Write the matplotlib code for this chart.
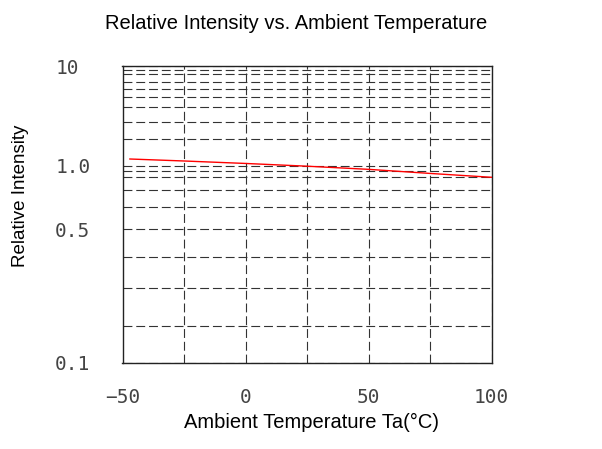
import numpy as np
import matplotlib
matplotlib.use("Agg")
import matplotlib.pyplot as plt
from matplotlib.scale import FuncScale
from matplotlib.ticker import FixedLocator, NullFormatter

# ---- data ----
temperature = [-47, -25, 0, 25, 50, 75, 100]
rel_intensity = [1.19, 1.13, 1.06, 0.99, 0.93, 0.86, 0.80]

x_major = [-50, 0, 50, 100]
x_major_labels = ["\u221250", "0", "50", "100"]
x_minor = [-25, 25, 75]

y_major = [0.1, 0.5, 1.0, 10]
y_major_labels = ["0.1", "0.5", "1.0", "10"]
y_minor = [0.2, 0.3, 0.4, 0.6, 0.7, 0.8, 0.9, 2, 3, 4, 5, 6, 7, 8, 9]

title = "Relative Intensity vs. Ambient Temperature"
xlabel = "Ambient Temperature Ta(\u00b0C)"
ylabel = "Relative Intensity"

# ---- the chart's own (irregular) vertical scale calibration ----
cal_vals = np.array([0.1, 0.2, 0.3, 0.4, 0.5, 0.6, 0.7, 0.8, 0.9, 1.0,
                     2, 3, 4, 5, 6, 7, 8, 9, 10])
cal_pix = np.array([362.7, 325.7, 288.3, 256.7, 229.3, 206.7, 190.0, 177.3,
                    171.0, 165.7, 139.0, 121.7, 106.7, 97.3, 89.0, 81.7,
                    74.3, 70.0, 66.0])
cal_log = np.log10(cal_vals)
cal_pos = 362.7 - cal_pix
cal_log = np.concatenate([[-6.0], cal_log, [6.0]])
cal_pos = np.concatenate([[cal_pos[0] - 5 * 198.0], cal_pos, [cal_pos[-1] + 5 * 100.0]])


def fwd(v):
    v = np.asarray(v, dtype=float)
    lv = np.log10(np.clip(v, 1e-6, 1e6))
    return np.interp(lv, cal_log, cal_pos)


def inv(p):
    p = np.asarray(p, dtype=float)
    return 10 ** np.interp(p, cal_pos, cal_log)


W, H = 602, 449
fig = plt.figure(figsize=(W / 100, H / 100), dpi=100)
ax = fig.add_axes([122.5 / W, 1 - 362.7 / H, (491.7 - 122.5) / W, (362.7 - 66.0) / H])

ax.set_yscale(FuncScale(ax.yaxis, (fwd, inv)))
ax.set_xlim(-50, 100)
ax.set_ylim(0.1, 10)

ax.plot(temperature, rel_intensity, color="red", lw=1.0, zorder=3)

ax.xaxis.set_major_locator(FixedLocator(x_major))
ax.xaxis.set_minor_locator(FixedLocator(x_minor))
ax.set_xticklabels(x_major_labels)
ax.xaxis.set_minor_formatter(NullFormatter())
ax.yaxis.set_major_locator(FixedLocator(y_major))
ax.yaxis.set_minor_locator(FixedLocator(y_minor))
ax.set_yticklabels(y_major_labels)
ax.yaxis.set_minor_formatter(NullFormatter())

ax.grid(True, which="both", color="#333333", lw=0.8, linestyle=(0, (8, 3.5)))
ax.set_axisbelow(True)
ax.tick_params(which="both", length=0)

for lab in ax.get_xticklabels():
    lab.set_fontfamily("DejaVu Sans Mono")
    lab.set_fontsize(14)
    lab.set_color("#444444")
for lab in ax.get_yticklabels():
    lab.set_fontfamily("DejaVu Sans Mono")
    lab.set_fontsize(14)
    lab.set_color("#444444")
    lab.set_horizontalalignment("left")
ax.tick_params(axis="y", pad=48.5)
ax.tick_params(axis="x", pad=18)

for s in ax.spines.values():
    s.set_linewidth(1.0)
    s.set_color("#222222")

fig.text(296 / W, 1 - 29.3 / H, title, ha="center", va="baseline",
         family="Liberation Sans", fontsize=14.5)
fig.text(311 / W, 1 - 428 / H, xlabel, ha="center", va="baseline",
         family="Liberation Sans", fontsize=14.5)
fig.text(21 / W, 1 - 196 / H, ylabel, ha="center", va="center", rotation=90,
         family="Liberation Sans", fontsize=13.5)

fig.savefig("out.png", dpi=100)
